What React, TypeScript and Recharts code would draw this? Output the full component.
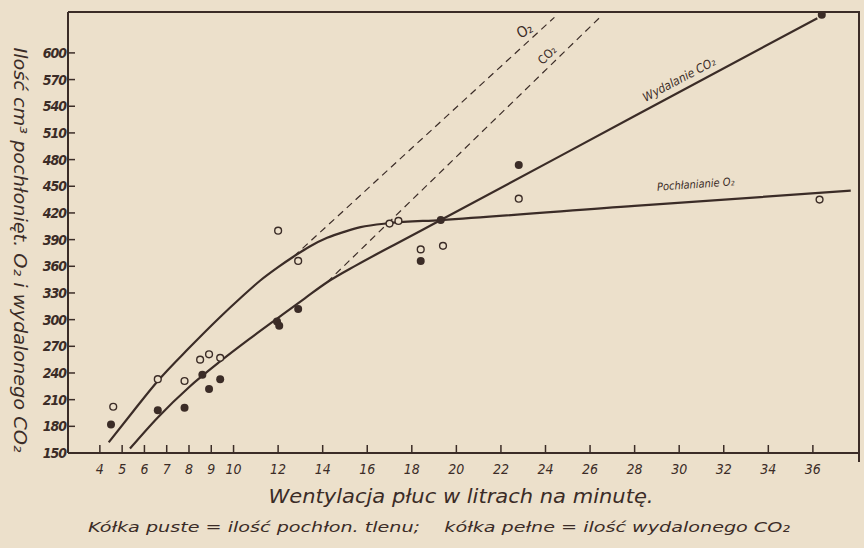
import React from 'react';
import { ComposedChart, Line, Scatter, XAxis, YAxis } from 'recharts';

// open circles = O2 absorbed, filled circles = CO2 expelled (cm3 vs litres/min)
const openX = [4.6, 6.6, 7.8, 8.5, 8.9, 9.4, 12.0, 12.9, 17.0, 17.4, 18.4, 19.4, 22.8, 36.3];
const openY = [202, 233, 231, 255, 261, 257, 400, 366, 408, 411, 379, 383, 436, 435];
const filledX = [4.5, 6.6, 7.8, 8.6, 8.9, 9.4, 11.95, 12.05, 12.9, 18.4, 19.3, 22.8, 36.4];
const filledY = [182, 198, 201, 238, 222, 233, 298, 293, 312, 366, 412, 474, 643];

// hand-drawn fitted curves
const o2CurveX = [4.4, 5.5, 6.6, 8, 9.4, 10.3, 11.2, 12.0, 12.7, 13.4, 14.2, 15.0, 15.7, 17.0, 19.3, 28, 37.7];
const o2CurveY = [162, 197, 231, 268, 303, 324, 344, 359, 371, 382, 392, 399, 404, 408.5, 412, 428, 445];
const co2CurveX = [5.35, 6.6, 8, 9.4, 10.7, 12, 13.2, 14.2, 15.5, 17.2, 19.3, 28, 36.2];
const co2CurveY = [155, 190, 224, 253, 278, 302, 324, 342, 361, 384, 412, 529, 639];

// dashed extrapolations
const o2DashX = [12.7, 24.4];
const o2DashY = [371, 640];
const co2DashX = [14.2, 26.4];
const co2DashY = [342, 639];

const xTicks = [4, 5, 6, 7, 8, 9, 10, 12, 14, 16, 18, 20, 22, 24, 26, 28, 30, 32, 34, 36];
const yTicks = [150, 180, 210, 240, 270, 300, 330, 360, 390, 420, 450, 480, 510, 540, 570, 600];

const zip = (xs: number[], ys: number[]) => xs.map((x, i) => ({ x, y: ys[i] }));

const INK = '#3b2c27';
const PAPER = '#ece0cb';
const FONT = '"DejaVu Sans Condensed", "DejaVu Sans", sans-serif';

const XTick = ({ x, y, payload }: any) => (
  <g>
    <line x1={x} x2={x} y1={y - 8} y2={y} stroke={INK} strokeWidth={1.5} />
    <text x={x} y={y + 21} textAnchor="middle" fill={INK} fontSize={14} fontStyle="italic" fontFamily={FONT}>
      {payload.value}
    </text>
  </g>
);

const YTick = ({ x, y, payload }: any) => (
  <g>
    <line x1={x} x2={x + 7} y1={y} y2={y} stroke={INK} strokeWidth={1.5} />
    <text x={x - 2} y={y} dy="0.36em" textAnchor="end" fill={INK} fontSize={14} fontWeight="bold" fontStyle="italic" fontFamily={FONT} letterSpacing={-1}>
      {payload.value}
    </text>
  </g>
);

const OpenDot = ({ cx, cy }: any) => <circle cx={cx} cy={cy} r={3.4} fill={PAPER} stroke={INK} strokeWidth={1.4} />;
const FullDot = ({ cx, cy }: any) => <circle cx={cx} cy={cy} r={4} fill={INK} />;

export default function App() {
  return (
    <div style={{ position: 'absolute', left: 0, top: 0, width: 864, height: 548, background: PAPER, overflow: 'hidden' }}>
      <ComposedChart width={864} height={548} margin={{ top: 12, right: 5, left: 0, bottom: 65 }}>
        <XAxis
          dataKey="x"
          type="number"
          domain={[2.57, 38.07]}
          ticks={xTicks}
          tick={<XTick />}
          tickSize={0}
          tickMargin={0}
          height={30}
          axisLine={{ stroke: INK, strokeWidth: 2 }}
          allowDataOverflow
        />
        <YAxis
          dataKey="y"
          type="number"
          domain={[150, 646]}
          ticks={yTicks}
          tick={<YTick />}
          tickSize={0}
          tickMargin={0}
          width={68}
          axisLine={{ stroke: INK, strokeWidth: 2 }}
          allowDataOverflow
        />
        <Line data={zip(o2DashX, o2DashY)} dataKey="y" type="linear" stroke={INK} strokeWidth={1.2} strokeDasharray="7 5" dot={false} isAnimationActive={false} />
        <Line data={zip(co2DashX, co2DashY)} dataKey="y" type="linear" stroke={INK} strokeWidth={1.2} strokeDasharray="7 5" dot={false} isAnimationActive={false} />
        <Line data={zip(o2CurveX, o2CurveY)} dataKey="y" type="monotone" stroke={INK} strokeWidth={2.2} dot={false} isAnimationActive={false} />
        <Line data={zip(co2CurveX, co2CurveY)} dataKey="y" type="monotone" stroke={INK} strokeWidth={2.2} dot={false} isAnimationActive={false} />
        <Scatter data={zip(openX, openY)} shape={<OpenDot />} isAnimationActive={false} />
        <Scatter data={zip(filledX, filledY)} shape={<FullDot />} isAnimationActive={false} />
      </ComposedChart>
      <svg width={864} height={548} style={{ position: 'absolute', left: 0, top: 0, pointerEvents: 'none' }}>
        <polyline points="68,12 859,12 859,462" fill="none" stroke={INK} strokeWidth={2} />
        <text x={0} y={0} transform="translate(14,250) rotate(90)" textAnchor="middle" fill={INK} fontSize={17} fontStyle="italic" fontFamily={FONT} textLength={405} lengthAdjust="spacingAndGlyphs">
          Ilość cm³ pochłonięt. O₂ i wydalonego CO₂
        </text>
        <text x={461} y={503} textAnchor="middle" fill={INK} fontSize={20} fontStyle="italic" fontFamily={FONT} textLength={385} lengthAdjust="spacingAndGlyphs">
          Wentylacja płuc w litrach na minutę.
        </text>
        <text x={88} y={532} fill={INK} fontSize={14} fontStyle="italic" fontFamily={FONT} textLength={702} lengthAdjust="spacingAndGlyphs" xmlSpace="preserve">
          Kółka puste = ilość pochłon. tlenu;    kółka pełne = ilość wydalonego CO₂
        </text>
        <text x={0} y={0} transform="translate(681,83) rotate(-28)" textAnchor="middle" fill={INK} fontSize={12} fontStyle="italic" fontFamily={FONT}>
          Wydalanie CO₂
        </text>
        <text x={0} y={0} transform="translate(696,188) rotate(-4)" textAnchor="middle" fill={INK} fontSize={11} fontStyle="italic" fontFamily={FONT}>
          Pochłanianie O₂
        </text>
        <text x={0} y={0} transform="translate(527,35) rotate(-28)" textAnchor="middle" fill={INK} fontSize={15} fontFamily={FONT}>
          O₂
        </text>
        <text x={0} y={0} transform="translate(550,58) rotate(-45)" textAnchor="middle" fill={INK} fontSize={12} fontFamily={FONT}>
          CO₂
        </text>
      </svg>
    </div>
  );
}
